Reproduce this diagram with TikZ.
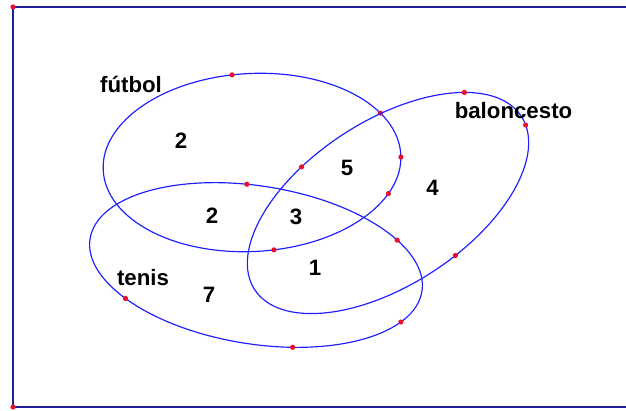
\documentclass[tikz,border=0pt]{standalone}
\usepackage{fontspec}
\setmainfont{Liberation Sans}
\definecolor{FrameNavy}{HTML}{20209A}
\definecolor{SetBlue}{HTML}{1E1EFF}
\definecolor{PointRed}{HTML}{E8102A}

\begin{document}
\begin{tikzpicture}[
    x=0.3mm, y=0.3mm,
    font=\bfseries\fontsize{19}{22}\selectfont,
    frame/.style={draw=FrameNavy, line width=1.8pt},
    setline/.style={draw=SetBlue, line width=1pt},
    pointmark/.style={fill=PointRed},
    setname/.style={anchor=base, text=black, inner sep=0pt},
    count/.style={text=black, inner sep=0pt}
]
\useasboundingbox (0,0) rectangle (626,410);

% Frame, open on the right
\draw[frame] (626,3) -- (13,3) -- (13,403) -- (626,403);
\fill[pointmark] (13,403) circle (2.6);
\fill[pointmark] (13,3) circle (2.6);

% futbol set
\begin{scope}[shift={(252,247.5)}, rotate=3]
  \draw[setline] (0,0) ellipse [x radius=149, y radius=89];
  \foreach \t in {95.9,28.6,-1.5,-25.4,-83.3}
    \fill[pointmark] ({149*cos(\t)},{89*sin(\t)}) circle (2.6);
\end{scope}

% baloncesto set
\begin{scope}[shift={(388,207)}, rotate=33]
  \draw[setline] (0,0) ellipse [x radius=159, y radius=82];
  \foreach \t in {38.6,-6.7,-79.9,109.4}
    \fill[pointmark] ({159*cos(\t)},{82*sin(\t)}) circle (2.6);
\end{scope}

% tenis set
\begin{scope}[shift={(256,145)}, rotate=-9]
  \draw[setline] (0,0) ellipse [x radius=168, y radius=79];
  \foreach \t in {97.4,36.2,-25.2,-73.0,-137.4}
    \fill[pointmark] ({168*cos(\t)},{79*sin(\t)}) circle (2.6);
\end{scope}

% Set names
\node[setname] (futbol) at (131,317) {fútbol};
\node[setname] (baloncesto) at (513.5,291) {baloncesto};
\node[setname] (tenis) at (143,125) {tenis};

% Region counts
\node[count] (onlyF) at (181,269.5) {2};
\node[count] (FandT) at (212,194) {2};
\node[count] (allthree) at (296,193) {3};
\node[count] (FandB) at (347,242.5) {5};
\node[count] (onlyB) at (432.5,222.5) {4};
\node[count] (TandB) at (315,142) {1};
\node[count] (onlyT) at (209,114.7) {7};

\end{tikzpicture}
\end{document}
